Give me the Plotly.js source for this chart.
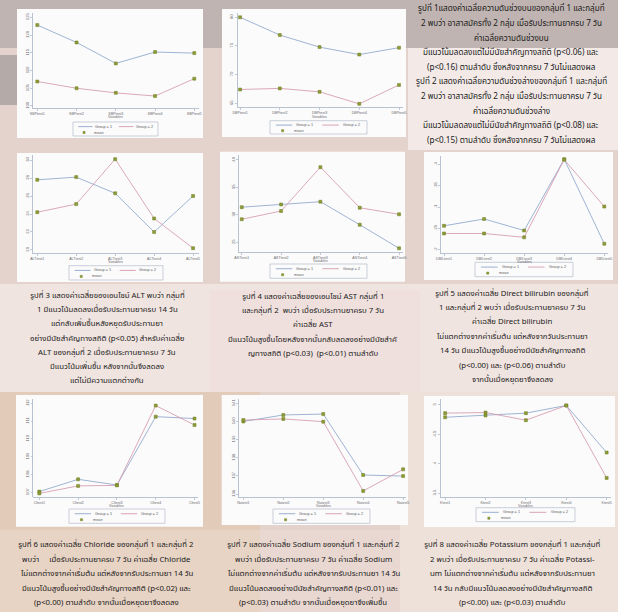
<!DOCTYPE html>
<html>
<head>
<meta charset="utf-8">
<script src="https://cdn.plot.ly/plotly-3.0.1.min.js"></script>
<style>
  html, body { margin: 0; padding: 0; background: #e4d3cd; }
  #chart { width: 618px; height: 612px; }
</style>
</head>
<body>
<div id="chart"></div>
<script>
// Visit index shared by every panel
const visits = [1, 2, 3, 4, 5];

// Mean values by visit, group 1 and group 2
const sbpG1 = [122.8, 117.9, 112.0, 115.2, 114.9];
const sbpG2 = [106.9, 105.0, 103.7, 102.8, 107.7];
const dbpG1 = [80.0, 76.9, 74.8, 73.5, 74.7];
const dbpG2 = [67.4, 67.6, 67.0, 64.9, 68.2];
const altG1 = [27.8, 28.1, 26.3, 22.0, 26.0];
const altG2 = [24.2, 25.1, 30.1, 23.5, 20.2];
const astG1 = [31.4, 31.9, 32.4, 28.2, 23.9];
const astG2 = [29.2, 30.7, 38.7, 31.3, 30.1];
const dbilG1 = [0.256, 0.272, 0.245, 0.412, 0.214];
const dbilG2 = [0.238, 0.238, 0.229, 0.411, 0.301];
const clG1 = [107.04, 107.73, 107.41, 111.25, 111.14];
const clG2 = [106.94, 107.36, 107.39, 111.87, 110.78];
const naG1 = [140.0, 140.36, 140.41, 137.05, 136.99];
const naG2 = [140.08, 140.14, 139.99, 136.17, 137.36];
const kG1 = [4.79, 4.82, 4.86, 4.99, 4.19];
const kG2 = [4.86, 4.87, 4.74, 4.99, 3.76];

// Variable names on the x axes
const sbpVars = ['SBPtest1', 'SBPtest2', 'SBPtest3', 'SBPtest4', 'SBPtest5'];
const dbpVars = ['DBPtest1', 'DBPtest2', 'DBPtest3', 'DBPtest4', 'DBPtest5'];
const altVars = ['ALTtest1', 'ALTtest2', 'ALTtest3', 'ALTtest4', 'ALTtest5'];
const astVars = ['ASTtest1', 'ASTtest2', 'ASTtest3', 'ASTtest4', 'ASTtest5'];
const dbilVars = ['DBILtest1', 'DBILtest2', 'DBILtest3', 'DBILtest4', 'DBILtest5'];
const clVars = ['Cltest1', 'Cltest2', 'Cltest3', 'Cltest4', 'Cltest5'];
const naVars = ['Natest1', 'Natest2', 'Natest3', 'Natest4', 'Natest5'];
const kVars = ['Ktest1', 'Ktest2', 'Ktest3', 'Ktest4', 'Ktest5'];

// Y tick values and labels
const sbpTicks = [100, 105, 110, 115, 120, 125];
const dbpTicks = [65, 70, 75, 80];
const altTicks = [20, 22, 24, 26, 28, 30];
const astTicks = [25, 30, 35, 40];
const dbilTicks = [0.2, 0.25, 0.3, 0.35, 0.4];
const dbilTickText = ['.2', '.25', '.3', '.35', '.4'];
const clTicks = [107, 108, 109, 110, 111, 112];
const naTicks = [136, 137, 138, 139, 140, 141];
const kTicks = [3.5, 4, 4.5, 5];

const legendLabels = ['Group = 1', 'Group = 2', 'mean'];
const variablesTitle = 'Variables';

// Captions
const captionTop = [
  'รูปที่ 1แสดงค่าเฉลี่ยความดันช่วงบนของกลุ่มที่ 1 และกลุ่มที่',
  '2 พบว่า อาสาสมัครทั้ง 2 กลุ่ม เมื่อรับประทานยาครบ 7 วัน',
  'ค่าเฉลี่ยความดันช่วงบน',
  'มีแนวโน้มลดลงแต่ไม่มีนัยสำคัญทางสถิติ (p<0.06) และ',
  '(p<0.16) ตามลำดับ ซึ่งหลังจากครบ 7 วันไม่แสดงผล',
  'รูปที่ 2 แสดงค่าเฉลี่ยความดันช่วงล่างของกลุ่มที่ 1 และกลุ่มที่',
  '2 พบว่า อาสาสมัครทั้ง 2 กลุ่ม เมื่อรับประทานยาครบ 7 วัน',
  'ค่าเฉลี่ยความดันช่วงล่าง',
  'มีแนวโน้มลดลงแต่ไม่มีนัยสำคัญทางสถิติ (p<0.08) และ',
  '(p<0.15) ตามลำดับ ซึ่งหลังจากครบ 7 วันไม่แสดงผล'
];
const caption3 = [
  'รูปที่ 3 แสดงค่าเฉลี่ยของเอนไซม์ ALT พบว่า กลุ่มที่',
  '1 มีแนวโน้มลดลงเมื่อรับประทานยาครบ 14 วัน',
  'แต่กลับเพิ่มขึ้นหลังหยุดรับประทานยา',
  'อย่างมีนัยสำคัญทางสถิติ (p<0.05) สำหรับค่าเฉลี่ย',
  'ALT ของกลุ่มที่ 2 เมื่อรับประทานยาครบ 7 วัน',
  'มีแนวโน้มเพิ่มขึ้น หลังจากนั้นจึงลดลง',
  'แต่ไม่มีความแตกต่างกัน'
];
const caption4 = [
  'รูปที่ 4 แสดงค่าเฉลี่ยของเอนไซม์ AST กลุ่มที่ 1',
  'และกลุ่มที่ 2  พบว่า เมื่อรับประทานยาครบ 7 วัน',
  'ค่าเฉลี่ย AST',
  'มีแนวโน้มสูงขึ้นโดยหลังจากนั้นกลับลดลงอย่างมีนัยสำคั',
  'ญทางสถิติ (p<0.03)  (p<0.01) ตามลำดับ'
];
const caption5 = [
  'รูปที่ 5 แสดงค่าเฉลี่ย Direct bilirubin ของกลุ่มที่',
  '1 และกลุ่มที่ 2 พบว่า เมื่อรับประทานยาครบ 7 วัน',
  'ค่าเฉลี่ย Direct bilirubin',
  'ไม่แตกต่างจากค่าเริ่มต้น แต่หลังจากวันประทานยา',
  '14 วัน มีแนวโน้มสูงขึ้นอย่างมีนัยสำคัญทางสถิติ',
  '(p<0.00) และ (p<0.06) ตามลำดับ',
  'จากนั้นเมื่อหยุดยาจึงลดลง'
];
const caption6 = [
  'รูปที่ 6 แสดงค่าเฉลี่ย Chloride ของกลุ่มที่ 1 และกลุ่มที่ 2',
  'พบว่า     เมื่อรับประทานยาครบ 7 วัน ค่าเฉลี่ย Chloride',
  'ไม่แตกต่างจากค่าเริ่มต้น แต่หลังจากรับประทานยา 14 วัน',
  'มีแนวโน้มสูงขึ้นอย่างมีนัยสำคัญทางสถิติ (p<0.02) และ',
  '(p<0.00) ตามลำดับ จากนั้นเมื่อหยุดยาจึงลดลง'
];
const caption7 = [
  'รูปที่ 7 แสดงค่าเฉลี่ย Sodium ของกลุ่มที่ 1 และกลุ่มที่ 2',
  'พบว่า เมื่อรับประทานยาครบ 7 วัน ค่าเฉลี่ย Sodium',
  'ไม่แตกต่างจากค่าเริ่มต้น แต่หลังจากรับประทานยา 14 วัน',
  'มีแนวโน้มลดลงอย่างมีนัยสำคัญทางสถิติ (p<0.01) และ',
  '(p<0.03) ตามลำดับ จากนั้นเมื่อหยุดยาจึงเพิ่มขึ้น'
];
const caption8 = [
  'รูปที่ 8 แสดงค่าเฉลี่ย Potassium ของกลุ่มที่ 1 และกลุ่มที่',
  '2 พบว่า เมื่อรับประทานยาครบ 7 วัน ค่าเฉลี่ย Potassi-',
  'um ไม่แตกต่างจากค่าเริ่มต้น แต่หลังจากรับประทานยา',
  '14 วัน กลับมีแนวโน้มลดลงอย่างมีนัยสำคัญทางสถิติ',
  '(p<0.00) และ (p<0.03) ตามลำดับ'
];

// ---- page geometry (pixels) ----
const W = 618, H = 612;
const px = v => v / W;
const py = v => 1 - v / H;

const BLUE = '#8ea6cc';
const PINK = '#d69aae';
const GREEN = '#8d9c34';
const AXIS = '#a9b4c6';
const TICKTXT = '#6a6a70';
const THAI = '"Noto Sans Thai", "Noto Sans Thai UI", Tahoma, "Noto Sans", sans-serif';

const panels = [
  { g1: sbpG1, g2: sbpG2, vars: sbpVars, ticks: sbpTicks, plot: [33, 199, 13, 108.3], xr: [0.89, 5.12], yr: [99.35, 126.2], card: [17, 203, 9, 138], leg: [73, 158, 122, 136], vy: 117.5 },
  { g1: dbpG1, g2: dbpG2, vars: dbpVars, ticks: dbpTicks, plot: [237.7, 403, 13, 107.3], xr: [0.94, 5.10], yr: [64.30, 80.75], card: [222, 406, 9, 137], leg: [270, 367, 120.7, 134], vy: 116.5 },
  { g1: altG1, g2: altG2, vars: altVars, ticks: altTicks, plot: [33, 198.5, 155, 253.3], xr: [0.89, 5.14], yr: [19.63, 30.56], card: [17, 203, 153, 282], leg: [69, 163, 265.7, 280], vy: 262.3 },
  { g1: astG1, g2: astG2, vars: astVars, ticks: astTicks, plot: [239, 403, 155, 252.3], xr: [0.93, 5.10], yr: [23.18, 40.91], card: [220, 405, 151.7, 281.7], leg: [270, 367, 264, 278.3], vy: 261.3 },
  { g1: dbilG1, g2: dbilG2, vars: dbilVars, ticks: dbilTicks, ticktext: dbilTickText, plot: [441, 608.3, 156, 253.3], xr: [0.925, 5.10], yr: [0.1916, 0.4195], card: [424, 613, 152, 280], leg: [475, 573, 262.3, 276.7], vy: 262 },
  { g1: clG1, g2: clG2, vars: clVars, ticks: clTicks, plot: [33.3, 198.4, 399, 497.3], xr: [0.845, 5.10], yr: [106.72, 112.24], card: [16, 203, 395, 526.7], leg: [69, 165, 509, 523.3], vy: 506.3 },
  { g1: naG1, g2: naG2, vars: naVars, ticks: naTicks, plot: [239, 406.3, 399, 497.3], xr: [0.89, 5.08], yr: [135.82, 141.24], card: [221.7, 408, 395, 525], leg: [273, 370, 509, 523.3], vy: 506.3 },
  { g1: kG1, g2: kG2, vars: kVars, ticks: kTicks, plot: [440.7, 610.7, 399, 497.3], xr: [0.89, 5.10], yr: [3.43, 5.10], card: [424, 615, 396, 527], leg: [476, 575, 507.7, 521.7], vy: 506 }
];

const traces = [];
const layout = {
  width: W, height: H,
  margin: { l: 0, r: 0, t: 0, b: 0 },
  paper_bgcolor: '#e4d3cd',
  plot_bgcolor: 'rgba(0,0,0,0)',
  showlegend: false,
  shapes: [],
  annotations: []
};

// Scanned-paper tones behind everything
const paperTones = [
  { r: [0, 618, 0, 48], c: 'rgba(160,154,154,0.55)' },
  { r: [0, 20, 55, 105], c: 'rgba(140,136,138,0.55)' },
  { r: [408, 618, 48, 150], c: 'rgba(248,242,240,0.75)' },
  { r: [0, 618, 284, 392], c: 'rgba(246,236,233,0.65)' },
  { r: [210, 420, 290, 392], c: 'rgba(236,212,212,0.2)' },
  { r: [0, 260, 392, 612], c: 'rgba(226,196,172,0.55)' },
  { r: [400, 618, 392, 612], c: 'rgba(244,236,230,0.55)' },
  { r: [0, 618, 530, 612], c: 'rgba(240,226,216,0.4)' }
];
paperTones.forEach(t => layout.shapes.push({
  type: 'rect', xref: 'paper', yref: 'paper', layer: 'below',
  x0: px(t.r[0]), x1: px(t.r[1]), y0: py(t.r[3]), y1: py(t.r[2]),
  fillcolor: t.c, line: { width: 0 }
}));

panels.forEach((p, i) => {
  const n = i + 1;
  const xa = 'x' + (n === 1 ? '' : n);
  const ya = 'y' + (n === 1 ? '' : n);
  const xKey = 'xaxis' + (n === 1 ? '' : n);
  const yKey = 'yaxis' + (n === 1 ? '' : n);

  traces.push({ x: visits, y: p.g1, xaxis: xa, yaxis: ya, mode: 'lines', name: legendLabels[0],
    line: { color: BLUE, width: 0.85 }, hoverinfo: 'skip' });
  traces.push({ x: visits, y: p.g2, xaxis: xa, yaxis: ya, mode: 'lines', name: legendLabels[1],
    line: { color: PINK, width: 0.85 }, hoverinfo: 'skip' });
  traces.push({ x: visits.concat(visits), y: p.g1.concat(p.g2), xaxis: xa, yaxis: ya, mode: 'markers',
    name: legendLabels[2], marker: { symbol: 'square', size: 3, color: GREEN, line: { color: '#6f7d22', width: 0.5 } },
    hoverinfo: 'skip' });

  layout[xKey] = {
    domain: [px(p.plot[0]), px(p.plot[1])], range: p.xr, anchor: ya,
    tickvals: visits, ticktext: p.vars, tickangle: 0,
    tickfont: { family: 'Liberation Sans, Arial, sans-serif', size: 3.6, color: TICKTXT },
    showline: true, linecolor: AXIS, linewidth: 0.8, mirror: false,
    ticks: 'outside', ticklen: 2, tickcolor: AXIS, tickwidth: 0.7,
    showgrid: false, zeroline: false, fixedrange: true
  };
  layout[yKey] = {
    domain: [py(p.plot[3]), py(p.plot[2])], range: p.yr, anchor: xa,
    tickvals: p.ticks, ticktext: p.ticktext || p.ticks.map(String), tickangle: -90,
    tickfont: { family: 'Liberation Sans, Arial, sans-serif', size: 4.2, color: TICKTXT },
    showline: true, linecolor: AXIS, linewidth: 0.8,
    ticks: 'outside', ticklen: 2, tickcolor: AXIS, tickwidth: 0.7,
    showgrid: false, zeroline: false, fixedrange: true
  };

  // white graph region
  layout.shapes.push({ type: 'rect', xref: 'paper', yref: 'paper', layer: 'below',
    x0: px(p.card[0]), x1: px(p.card[1]), y0: py(p.card[3]), y1: py(p.card[2]),
    fillcolor: '#fbfbfb', line: { width: 0 } });

  // axis title
  layout.annotations.push({ xref: xa, yref: 'paper', x: 3, y: py(p.vy), text: variablesTitle,
    showarrow: false, xanchor: 'center', yanchor: 'middle',
    font: { family: 'Liberation Sans, Arial, sans-serif', size: 3.6, color: TICKTXT } });

  // legend box
  const [l0, l1, t0, t1] = p.leg;
  const lw = l1 - l0, lh = t1 - t0;
  const r1 = t0 + lh * 0.33, r2 = t0 + lh * 0.75;
  layout.shapes.push({ type: 'rect', xref: 'paper', yref: 'paper', layer: 'above',
    x0: px(l0), x1: px(l1), y0: py(t1), y1: py(t0), line: { color: '#b4bccb', width: 0.7 } });
  layout.shapes.push({ type: 'line', xref: 'paper', yref: 'paper',
    x0: px(l0 + lw * 0.06), x1: px(l0 + lw * 0.23), y0: py(r1), y1: py(r1), line: { color: BLUE, width: 0.9 } });
  layout.shapes.push({ type: 'line', xref: 'paper', yref: 'paper',
    x0: px(l0 + lw * 0.54), x1: px(l0 + lw * 0.71), y0: py(r1), y1: py(r1), line: { color: PINK, width: 0.9 } });
  const mx = l0 + lw * 0.13;
  layout.shapes.push({ type: 'rect', xref: 'paper', yref: 'paper',
    x0: px(mx - 1.1), x1: px(mx + 1.1), y0: py(r2 + 1.1), y1: py(r2 - 1.1),
    fillcolor: GREEN, line: { color: '#6f7d22', width: 0.4 } });
  const legFont = { family: 'Liberation Sans, Arial, sans-serif', size: 3.8, color: '#5a5a62' };
  [[legendLabels[0], 0.36, r1], [legendLabels[1], 0.84, r1], [legendLabels[2], 0.30, r2]].forEach(e => {
    layout.annotations.push({ xref: 'paper', yref: 'paper', x: px(l0 + lw * e[1]), y: py(e[2]),
      text: e[0], showarrow: false, xanchor: 'center', yanchor: 'middle', font: legFont });
  });
});

// caption blocks: [lines, centre x, first line y, line step, font size]
const captionBlocks = [
  [captionTop, 511, 9, 14.6, 8.1],
  [caption3, 107, 296, 14.2, 7.8],
  [caption4, 313, 296.5, 14.4, 7.8],
  [caption5, 512, 293.5, 14.4, 7.8],
  [caption6, 106, 545, 14.5, 7.8],
  [caption7, 313, 545, 14.5, 7.8],
  [caption8, 512, 545, 14.5, 7.8]
];
captionBlocks.forEach(([lines, cx, y0, step, fs]) => {
  lines.forEach((s, k) => layout.annotations.push({
    xref: 'paper', yref: 'paper', x: px(cx), y: py(y0 + k * step), text: s,
    showarrow: false, xanchor: 'center', yanchor: 'middle',
    font: { family: THAI, size: fs, color: '#211a1a' }
  }));
});

Plotly.newPlot('chart', traces, layout, { staticPlot: true, displayModeBar: false });
</script>
</body>
</html>
